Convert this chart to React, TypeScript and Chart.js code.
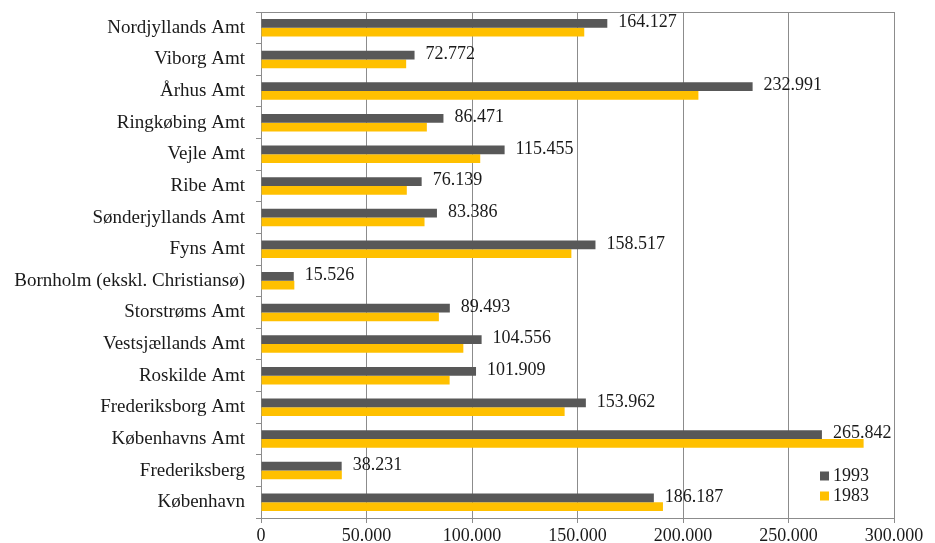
import React, { useEffect, useRef } from "react";
import { Chart, registerables } from "chart.js";

Chart.register(...registerables);

const categories = [
  "Nordjyllands Amt",
  "Viborg Amt",
  "Århus Amt",
  "Ringkøbing Amt",
  "Vejle Amt",
  "Ribe Amt",
  "Sønderjyllands Amt",
  "Fyns Amt",
  "Bornholm (ekskl. Christiansø)",
  "Storstrøms Amt",
  "Vestsjællands Amt",
  "Roskilde Amt",
  "Frederiksborg Amt",
  "Københavns Amt",
  "Frederiksberg",
  "København",
];

const values1993 = [
  164127, 72772, 232991, 86471, 115455, 76139, 83386, 158517, 15526, 89493,
  104556, 101909, 153962, 265842, 38231, 186187,
];

const values1983 = [
  153200, 68800, 207300, 78600, 103900, 69100, 77500, 147100, 15800, 84300,
  95900, 89400, 143900, 285600, 38300, 190500,
];

const seriesLabels = ["1993", "1983"];
const seriesColors = ["#585858", "#FFC000"];

const xMax = 300000;
const xStep = 50000;

const FONT = "'Liberation Serif', 'Times New Roman', serif";
const TEXT = "#1a1a1a";
const GRID = "#8c8c8c";

function fmt(v: number): string {
  const s = Math.round(v).toString();
  return s.replace(/\B(?=(\d{3})+(?!\d))/g, ".");
}

const labelPlugin = {
  id: "valueLabels",
  afterDatasetsDraw(chart: any) {
    const ctx = chart.ctx;
    const meta = chart.getDatasetMeta(0);
    ctx.save();
    ctx.font = `18px ${FONT}`;
    ctx.fillStyle = TEXT;
    ctx.textAlign = "left";
    ctx.textBaseline = "middle";
    meta.data.forEach((bar: any, i: number) => {
      ctx.fillText(fmt(values1993[i]), bar.x + 11, bar.y - 1);
    });
    ctx.restore();
  },
};

const framePlugin = {
  id: "frame",
  afterDraw(chart: any) {
    const { ctx, chartArea } = chart;
    ctx.save();
    ctx.strokeStyle = GRID;
    ctx.lineWidth = 1;
    ctx.beginPath();
    const top = Math.round(chartArea.top) + 0.5;
    const right = Math.round(chartArea.right) + 0.5;
    ctx.moveTo(Math.round(chartArea.left) + 0.5, top);
    ctx.lineTo(right, top);
    ctx.lineTo(right, Math.round(chartArea.bottom) + 0.5);
    ctx.stroke();
    ctx.restore();
  },
};

const legendPlugin = {
  id: "customLegend",
  afterDraw(chart: any) {
    const { ctx, chartArea } = chart;
    ctx.save();
    ctx.font = `18px ${FONT}`;
    ctx.textBaseline = "middle";
    ctx.textAlign = "left";
    const x = chartArea.right - 74;
    const ys = [chartArea.bottom - 42, chartArea.bottom - 22];
    seriesLabels.forEach((lab, i) => {
      ctx.fillStyle = seriesColors[i];
      ctx.fillRect(x, ys[i] - 4.5, 9, 9);
      ctx.fillStyle = TEXT;
      ctx.fillText(lab, x + 13, ys[i]);
    });
    ctx.restore();
  },
};

export default function App() {
  const ref = useRef<HTMLCanvasElement | null>(null);

  useEffect(() => {
    if (!ref.current) return;
    const chart = new Chart(ref.current, {
      type: "bar",
      data: {
        labels: categories,
        datasets: [
          {
            label: seriesLabels[0],
            data: values1993,
            backgroundColor: seriesColors[0],
            categoryPercentage: 0.55,
            barPercentage: 1,
          },
          {
            label: seriesLabels[1],
            data: values1983,
            backgroundColor: seriesColors[1],
            categoryPercentage: 0.55,
            barPercentage: 1,
          },
        ],
      },
      options: {
        indexAxis: "y",
        animation: false,
        responsive: false,
        maintainAspectRatio: false,
        layout: { padding: { left: 0, right: 41, top: 12, bottom: 0 } },
        plugins: {
          legend: { display: false },
          tooltip: { enabled: false },
        },
        scales: {
          x: {
            min: 0,
            max: xMax,
            ticks: {
              stepSize: xStep,
              callback: (v: any) => fmt(Number(v)),
              font: { family: FONT, size: 18 },
              color: TEXT,
              padding: 2,
              maxRotation: 0,
            },
            grid: {
              color: GRID,
              lineWidth: 1,
              drawTicks: true,
              tickLength: 5,
            },
            border: { display: true, color: GRID },
            afterFit: (scale: any) => {
              scale.height = 25;
              scale.paddingLeft = 0;
              scale.paddingRight = 0;
            },
          },
          y: {
            ticks: {
              font: { family: FONT, size: 19 },
              color: TEXT,
              padding: 11,
              autoSkip: false,
            },
            grid: {
              drawOnChartArea: false,
              drawTicks: true,
              tickLength: 5,
              color: GRID,
              offset: true,
            },
            border: { display: true, color: GRID },
            afterFit: (scale: any) => {
              scale.width = 261;
              scale.paddingTop = 0;
              scale.paddingBottom = 0;
            },
          },
        },
      },
      plugins: [labelPlugin, framePlugin, legendPlugin],
    });
    return () => chart.destroy();
  }, []);

  return (
    <div
      style={{
        position: "fixed",
        left: 0,
        top: 0,
        width: 935,
        height: 543,
        background: "#fff",
      }}
    >
      <canvas ref={ref} width={935} height={543} />
    </div>
  );
}
